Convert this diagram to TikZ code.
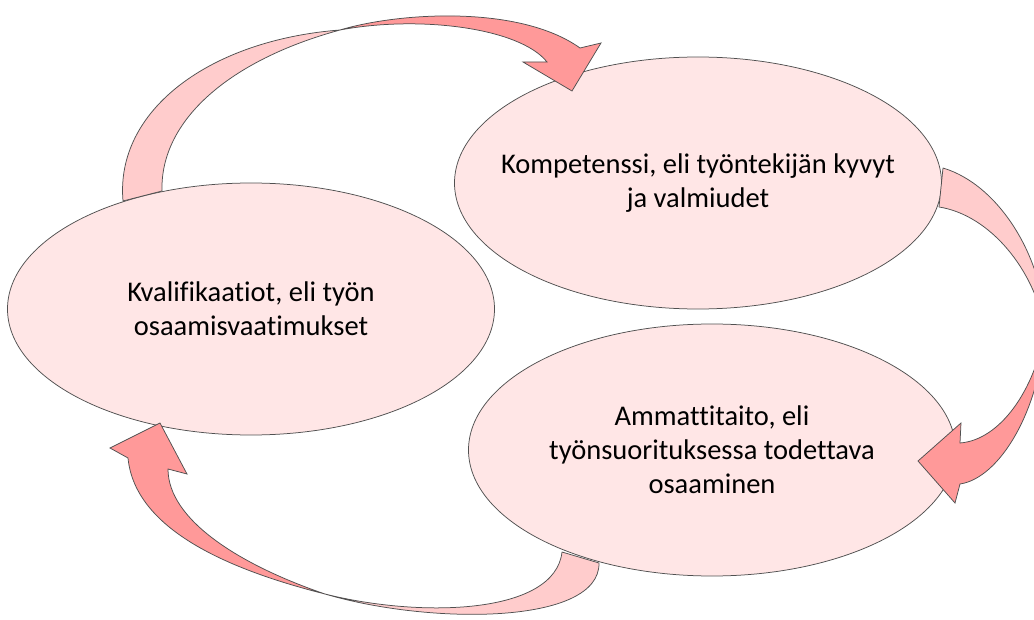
\documentclass[tikz,border=0pt]{standalone}
\usepackage{fontspec}
\setmainfont{Carlito}[Ligatures={NoCommon}]
\usetikzlibrary{shapes.geometric}
\definecolor{blobfill}{HTML}{FFE6E6}
\definecolor{lightarrow}{HTML}{FFCCCC}
\definecolor{darkarrow}{HTML}{FF9999}
\definecolor{edge}{HTML}{505050}
\tikzset{
  blob/.style={ellipse, draw=edge, fill=blobfill, line width=0.75pt,
    minimum width=487pt, minimum height=252pt, inner sep=0pt},
  lbl/.style={align=center, font=\fontsize{28.5}{34}\selectfont, text=black},
  lightpart/.style={fill=lightarrow, draw=edge, line width=0.75pt, line join=round},
  darkpart/.style={fill=darkarrow, draw=edge, line width=0.75pt, line join=miter},
}
\begin{document}
\begin{tikzpicture}[x=1pt,y=-1pt]
\useasboundingbox (0,0) rectangle (1034,620);
% ellipses
\node[blob] (kval) at (251,309) {};
\node[blob] (komp) at (698,183) {};
\node[blob] (amm)  at (712,450) {};
\node[lbl] (kvalt) at (kval) {Kvalifikaatiot, eli työn\\osaamisvaatimukset};
\node[lbl] (kompt) at (komp) {Kompetenssi, eli työntekijän kyvyt\\ja valmiudet};
\node[lbl] (ammt)  at (amm)  {Ammattitaito, eli\\työnsuorituksessa todettava\\osaaminen};
% arrow 1: top, from kval to komp
\path[lightpart] (123,201) .. controls (115,110) and (210,40) .. (340,30)
  .. controls (230,60) and (160,120) .. (162,191) -- cycle;
\path[darkpart] (340,30) .. controls (400,12) and (520,5) .. (580,48)
  -- (601,43) -- (572,91) -- (523,62) -- (547,62)
  .. controls (520,28) and (420,15) .. (340,30) -- cycle;
% arrow 2: right, from komp to amm
\path[lightpart] (943,168) .. controls (1000,185) and (1045,260) .. (1045,330)
  .. controls (1035,270) and (990,215) .. (939,207) -- cycle;
\path[darkpart] (1045,330) .. controls (1040,410) and (1000,478) .. (960,484)
  -- (955,503) -- (918,461) -- (961,423) -- (960,443)
  .. controls (1000,440) and (1035,390) .. (1045,330) -- cycle;
% arrow 3: bottom, from amm to kval
\path[lightpart] (599,563) .. controls (600,625) and (430,625) .. (325,594)
  .. controls (420,618) and (555,615) .. (562,552) -- cycle;
\path[darkpart] (325,594) .. controls (230,570) and (135,530) .. (128,458)
  -- (110,448) -- (160,423) -- (187,474) -- (168,469)
  .. controls (168,520) and (240,565) .. (325,594) -- cycle;
\end{tikzpicture}
\end{document}
